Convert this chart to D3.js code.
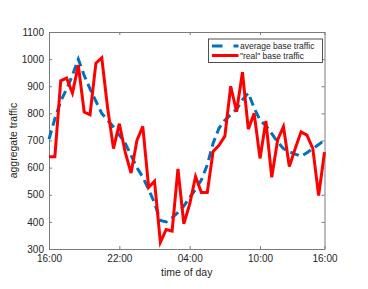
<!DOCTYPE html>
<html>
<head>
<meta charset="utf-8">
<script src="https://cdn.jsdelivr.net/npm/d3@7"></script>
<style>
  body { margin: 0; background: #fff; }
  text { font-family: "Liberation Sans", Arial, sans-serif; fill: #262626; }
</style>
</head>
<body>
<div id="chart"></div>
<script>
// half-hour samples, index 1..48 (16:00 -> 16:00)
const avgTraffic = [705, 780, 845, 890, 940, 1000, 940, 890, 845, 800,
  775, 750, 720, 690, 645, 600, 565, 520, 470, 405,
  400, 415, 435, 458, 490, 520, 555, 610, 690, 745,
  775, 795, 815, 850, 875, 820, 775, 755, 725, 695,
  670, 658, 650, 642, 655, 670, 685, 702]
const realTraffic = [640, 640, 920, 930, 875, 978, 805, 795, 985, 1005,
  820, 670, 762, 657, 580, 700, 752, 527, 550, 325,
  372, 366, 595, 393, 465, 567, 508, 508, 660, 682,
  716, 900, 806, 952, 742, 800, 634, 772, 564, 702,
  751, 604, 670, 732, 720, 671, 497, 657]
const tickIdx = [1, 13, 25, 37, 48]
const tickLabels = ["16:00", "22:00", "04:00", "10:00", "16:00"]
const yTicks = [300, 400, 500, 600, 700, 800, 900, 1000, 1100]

const W = 368, H = 289
const MARGIN = { top: 32, right: 43.5, bottom: 40, left: 49 }
const WIDTH = W - MARGIN.left - MARGIN.right
const HEIGHT = H - MARGIN.top - MARGIN.bottom

const svg = d3.select("#chart").append("svg")
  .attr("width", W)
  .attr("height", H)

const g = svg.append("g")
  .attr("transform", `translate(${MARGIN.left},${MARGIN.top})`)

const x = d3.scaleLinear().domain([1, 48]).range([0, WIDTH])
const y = d3.scaleLinear().domain([300, 1100]).range([HEIGHT, 0])

const axisColor = "#7a7a7a"

// axes (MATLAB style: ticks inside, box on)
const xAxis = g.append("g")
  .attr("transform", `translate(0,${HEIGHT})`)
  .call(d3.axisBottom(x).tickValues(tickIdx)
    .tickFormat((d, i) => tickLabels[i]).tickSizeInner(-3).tickSizeOuter(0).tickPadding(6))
const xTop = g.append("g")
  .call(d3.axisTop(x).tickValues(tickIdx).tickFormat("").tickSizeInner(-3).tickSizeOuter(0))
const yAxis = g.append("g")
  .call(d3.axisLeft(y).tickValues(yTicks).tickFormat(d3.format("d"))
    .tickSizeInner(-3).tickSizeOuter(0).tickPadding(5))
const yRight = g.append("g")
  .attr("transform", `translate(${WIDTH},0)`)
  .call(d3.axisRight(y).tickValues(yTicks).tickFormat("").tickSizeInner(-3).tickSizeOuter(0))

;[xAxis, xTop, yAxis, yRight].forEach(a => {
  a.select(".domain").attr("stroke", axisColor)
  a.selectAll(".tick line").attr("stroke", axisColor)
  a.selectAll(".tick text").attr("font-size", "10px").attr("fill", "#262626")
    .attr("font-family", "Liberation Sans, Arial, sans-serif")
})

// lines
const line = d3.line()
  .x((d, i) => x(i + 1))
  .y(d => y(d))

g.append("path")
  .datum(avgTraffic)
  .attr("fill", "none")
  .attr("stroke", "#0072BD")
  .attr("stroke-width", 3)
  .attr("stroke-dasharray", "9,5")
  .attr("d", line)

g.append("path")
  .datum(realTraffic)
  .attr("fill", "none")
  .attr("stroke", "#FF0000")
  .attr("stroke-width", 3)
  .attr("stroke-linejoin", "miter")
  .attr("d", line)

// axis labels
svg.append("text")
  .attr("x", MARGIN.left + WIDTH / 2)
  .attr("y", 276)
  .attr("text-anchor", "middle")
  .attr("font-size", "10.5px")
  .text("time of day")

svg.append("text")
  .attr("transform", `translate(17,${MARGIN.top + HEIGHT / 2}) rotate(-90)`)
  .attr("text-anchor", "middle")
  .attr("font-size", "10.5px")
  .text("aggregate traffic")

// legend
const legend = svg.append("g").attr("transform", "translate(208.5,39)")
legend.append("rect")
  .attr("width", 114).attr("height", 23.5)
  .attr("fill", "#fff").attr("stroke", "#262626").attr("stroke-width", 0.8)

const legendItems = [
  { label: "average base traffic", color: "#0072BD", dash: "10.5,11" },
  { label: "\"real\" base traffic", color: "#FF0000", dash: null }
]
legendItems.forEach((d, i) => {
  const row = legend.append("g").attr("transform", `translate(0,${7 + i * 9.5})`)
  row.append("line")
    .attr("x1", 3.5).attr("x2", 30)
    .attr("stroke", d.color).attr("stroke-width", 3)
    .attr("stroke-dasharray", d.dash)
  row.append("text")
    .attr("x", 31.5).attr("y", 3)
    .attr("font-size", "8.5px")
    .text(d.label)
})
</script>
</body>
</html>
